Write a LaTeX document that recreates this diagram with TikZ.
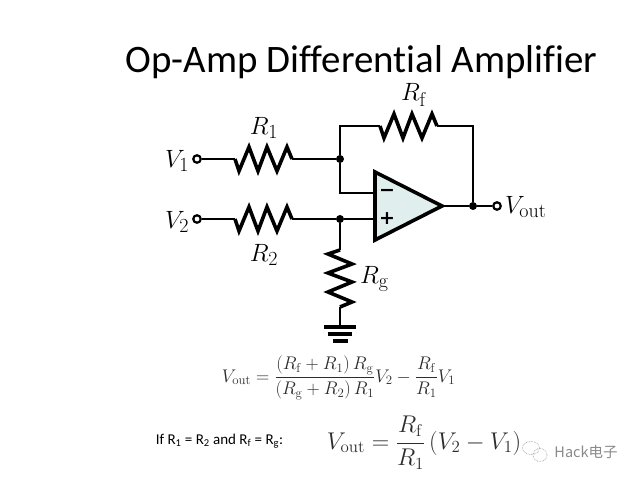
\documentclass[tikz,border=0pt]{standalone}
\usepackage{fix-cm}
\usepackage[no-math]{fontspec}
\usepackage{amsmath}
\usetikzlibrary{positioning}
\newfontfamily\slidefont[Ligatures=NoCommon]{Carlito}
\newfontfamily\markfont{Noto Sans CJK SC}
\newfontfamily\signfont{DejaVu Sans}
\DeclareMathSizes{25}{25}{20}{15}
\definecolor{ampfill}{HTML}{E0EEEE}
\definecolor{eqgrey}{HTML}{2C2C2C}
\definecolor{markgrey}{HTML}{8A8A8A}
\tikzset{
    wire/.style={line width=2.6pt,line join=miter},
    thickwire/.style={line width=3.6pt,line join=miter},
    junction/.style={circle,fill=black,inner sep=0pt,minimum size=8pt},
    terminal/.style={circle,draw=black,fill=white,line width=2.2pt,inner sep=0pt,minimum size=7.5pt},
    symlabel/.style={inner sep=0pt,font=\fontsize{25}{28}\selectfont},
    signlabel/.style={inner sep=0pt,font=\signfont\bfseries\fontsize{19}{22}\selectfont},
}

\begin{document}
\begin{tikzpicture}[x=1pt,y=-1pt]
    \useasboundingbox (0,0) rectangle (638,479);

    % Title and the two formulas
    \node [inner sep=0pt,font=\slidefont\fontsize{38.9}{42}\selectfont] (title) at (361.5,62) {Op-Amp Differential Amplifier};
    \node [inner sep=0pt,text=eqgrey,font=\fontsize{18.3}{21}\selectfont] (eqfull) at (338.5,378)
        {$V_{\mathrm{out}} = \dfrac{(R_{\mathrm{f}}+R_1)\,R_{\mathrm{g}}}{(R_{\mathrm{g}}+R_2)\,R_1}V_2 - \dfrac{R_{\mathrm{f}}}{R_1}V_1$};
    \node [inner sep=0pt,font=\slidefont\fontsize{15}{18}\selectfont] (cond) at (219.5,441)
        {If R\textsubscript{1} = R\textsubscript{2} and R\textsubscript{f} = R\textsubscript{g}:};
    \node [inner sep=0pt,text=eqgrey,font=\fontsize{24.2}{28}\selectfont] (eqshort) at (424,443)
        {$V_{\mathrm{out}} = \dfrac{R_{\mathrm{f}}}{R_1}\,(V_2 - V_1)$};

    % Op-amp
    \coordinate (amptop) at (375,172);
    \coordinate (ampbot) at (375,240);
    \coordinate (amptip) at (442,206);
    \coordinate (inminus) at (375,193);
    \coordinate (inplus) at (375,219);
    \draw [thickwire,fill=ampfill] (amptop) -- (amptip) -- (ampbot) -- cycle;
    \node [signlabel] (minus) at (387,193) {−};
    \node [signlabel] (plus) at (387,219) {+};

    % Terminals and junctions
    \node [terminal] (vone) at (197,159) {};
    \node [terminal] (vtwo) at (197,219) {};
    \node [terminal] (vout) at (497,206) {};
    \node [junction] (nodeone) at (340,159) {};
    \node [junction] (nodetwo) at (340,219) {};
    \node [junction] (nodeout) at (473,206) {};

    % R1, R2 and Rf
    \coordinate (roneA) at (235,159);
    \coordinate (roneB) at (292,159);
    \coordinate (rtwoA) at (235,219);
    \coordinate (rtwoB) at (292,219);
    \coordinate (rfA) at (380,126);
    \coordinate (rfB) at (437,126);
    \foreach \ra/\rb in {roneA/roneB,rtwoA/rtwoB,rfA/rfB}
        \draw [thickwire] (\ra) -- ++(4,12) -- ++(10,-24) -- ++(9,24) -- ++(9,-24)
              -- ++(10,24) -- ++(10,-24) -- (\rb);

    % Rg
    \coordinate (rgA) at (340,250);
    \coordinate (rgB) at (340,307);
    \draw [thickwire] (rgA) -- ++(-12,4) -- ++(24,10) -- ++(-24,9) -- ++(24,9)
          -- ++(-24,10) -- ++(24,10) -- (rgB);

    % Ground
    \coordinate (gnd) at (340,327);
    \coordinate (gndL) at (324,327);
    \coordinate (gndR) at (356,327);
    \draw [thickwire] (gndL) -- (gndR);
    \draw [thickwire] (328,334) -- (352,334);
    \draw [thickwire] (333,341) -- (348,341);

    % Wires
    \draw [wire] (vone) -- (roneA);
    \draw [wire] (roneB) -- (nodeone);
    \draw [wire] (vtwo) -- (rtwoA);
    \draw [wire] (rtwoB) -- (nodetwo);
    \draw [wire] (nodetwo) -- (inplus);
    \draw [wire] (nodetwo) -- (rgA);
    \draw [wire] (rgB) -- (gnd);
    \draw [wire] (nodeone) |- (inminus);
    \draw [wire] (nodeone) |- (rfA);
    \draw [wire] (rfB) -| (nodeout);
    \draw [wire] (amptip) -- (nodeout);
    \draw [wire] (nodeout) -- (vout);

    % Labels
    \node [symlabel] (lvone) at (177,161) {$V_1$};
    \node [symlabel] (lvtwo) at (177,222) {$V_2$};
    \node [symlabel,anchor=west] (lvout) at (505,207) {$V_{\mathrm{out}}$};
    \node [symlabel] (lrone) at (264,128) {$R_1$};
    \node [symlabel] (lrtwo) at (264,255) {$R_2$};
    \node [symlabel] (lrf) at (414,95) {$R_{\mathrm{f}}$};
    \node [symlabel,anchor=west] (lrg) at (360,279) {$R_{\mathrm{g}}$};

    % Watermark
    \draw [markgrey,densely dotted,line width=0.6pt] (531,448) ellipse (8.5 and 6.5);
    \draw [markgrey,densely dotted,line width=0.6pt] (540,455) ellipse (7 and 6.5);
    \node [inner sep=0pt,text=markgrey,font=\markfont\fontsize{14.5}{16}\selectfont] (mark) at (586,452) {Hack电子};
\end{tikzpicture}
\end{document}
